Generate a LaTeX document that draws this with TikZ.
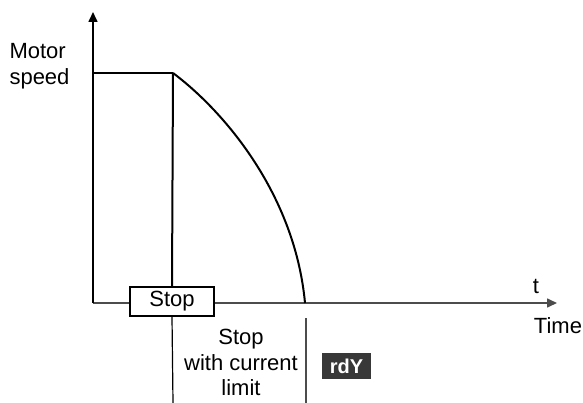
\documentclass[tikz,border=0pt]{standalone}
\usepackage{fontspec}
\setmainfont{Liberation Sans}
\usetikzlibrary{arrows.meta}

\begin{document}
\begin{tikzpicture}[x=1pt,y=-1pt,font=\fontsize{22}{25.5}\selectfont,
  axisline/.style={line width=1.6pt,-{Triangle[length=10pt,width=9pt]}},
  stopbox/.style={draw,fill=white,line width=2pt,minimum width=84pt,minimum height=29pt,inner sep=0pt},
  tag/.style={fill=black!78,text=white,font=\fontsize{20}{22}\selectfont\bfseries,minimum width=49pt,minimum height=26pt,inner sep=0pt}]
\useasboundingbox (0,0) rectangle (583,403);
\coordinate (O) at (93,303);
\coordinate (ytop) at (93,12);
\coordinate (xend) at (557,303);
\coordinate (speed) at (93,73);
\coordinate (knee) at (173,73);
\coordinate (zero) at (305,303);
\coordinate (lowA) at (173,403);
\coordinate (limA) at (306,318);
\coordinate (limB) at (306,403);
\draw[axisline,black!70] (O) -- (xend);
\draw[axisline] (O) -- (ytop);
\draw[line width=2pt] (speed) -- (knee);
\draw[line width=2pt] (knee) .. controls (225,112) and (295,195) .. (zero);
\node[stopbox] (stop) at (172,301.5) {Stop};
\draw[line width=2pt] (knee) -- (stop.north);
\draw[line width=1.2pt] (stop.south) -- (lowA);
\draw[line width=1.2pt,black!70] (limA) -- (limB);
\node[anchor=west,align=left] (ylab) at (6,66) {Motor\\speed};
\node[anchor=base] (tlab) at (536,293) {t};
\node[anchor=base] (timelab) at (558,333) {Time};
\node[align=center,anchor=north] (stoplab) at (241,326) {Stop\\with current\\limit};
\node[tag] (rdy) at (346.5,366) {rdY};
\end{tikzpicture}
\end{document}
